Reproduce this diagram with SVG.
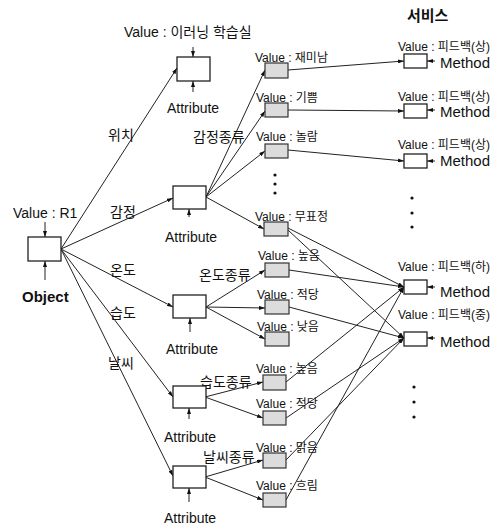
<svg xmlns="http://www.w3.org/2000/svg" width="502" height="529" viewBox="0 0 502 529">
<defs>
<marker id="ah" viewBox="0 0 6 4" refX="6" refY="2" markerWidth="6" markerHeight="4" markerUnits="userSpaceOnUse" orient="auto"><path d="M0,0 L6,2 L0,4 Z" fill="#111"/></marker>
</defs>
<style>
text{font-family:"Liberation Sans","Noto Sans CJK KR",sans-serif;fill:#111}
.t14{font-size:14px}
.t12{font-size:12px}
.t15{font-size:15px}
.b{font-weight:bold}
.box{fill:#fff;stroke:#222;stroke-width:1.3}
.val{fill:#dcdcdc;stroke:#333;stroke-width:1.2}
.ln{stroke:#222;stroke-width:1;fill:none}
.ar{stroke:#222;stroke-width:1;fill:none;marker-end:url(#ah)}
.dot{fill:#111}
</style>
<rect width="502" height="529" fill="#fff"/>
<g id="connectors">
<line class="ar" x1="61" y1="249" x2="177" y2="68"/>
<line class="ar" x1="61" y1="249" x2="173" y2="198"/>
<line class="ar" x1="61" y1="249" x2="173" y2="307"/>
<line class="ar" x1="61" y1="249" x2="173" y2="397"/>
<line class="ar" x1="61" y1="249" x2="173" y2="476"/>
<line class="ar" x1="206" y1="197" x2="265" y2="70"/>
<line class="ar" x1="206" y1="197" x2="265" y2="111"/>
<line class="ar" x1="206" y1="197" x2="265" y2="151"/>
<line class="ar" x1="206" y1="197" x2="264" y2="229"/>
<line class="ar" x1="206" y1="307" x2="265" y2="270"/>
<line class="ar" x1="206" y1="307" x2="265" y2="308"/>
<line class="ar" x1="206" y1="307" x2="265" y2="339"/>
<line class="ar" x1="205" y1="397" x2="263" y2="382"/>
<line class="ar" x1="205" y1="397" x2="263" y2="418"/>
<line class="ar" x1="205" y1="477" x2="263" y2="460"/>
<line class="ar" x1="205" y1="477" x2="263" y2="500"/>
<line class="ar" x1="288" y1="70" x2="404" y2="61"/>
<line class="ar" x1="288" y1="110" x2="404" y2="111"/>
<line class="ar" x1="288" y1="150" x2="404" y2="161"/>
<line class="ar" x1="288" y1="228" x2="404" y2="287"/>
<line class="ar" x1="288" y1="230" x2="404" y2="338"/>
<line class="ar" x1="289" y1="270" x2="404" y2="287"/>
<line class="ar" x1="289" y1="307" x2="404" y2="338"/>
<line class="ar" x1="286" y1="382" x2="404" y2="287"/>
<line class="ar" x1="286" y1="418" x2="404" y2="338"/>
<line class="ar" x1="286" y1="460" x2="404" y2="338"/>
<line class="ar" x1="286" y1="500" x2="404" y2="287"/>
</g>
<g id="edge-labels">
<text class="t14" x="108" y="140">위치</text>
<text class="t14" x="110" y="217">감정</text>
<text class="t14" x="110" y="275">온도</text>
<text class="t14" x="110" y="318">습도</text>
<text class="t14" x="108" y="368">날씨</text>
<text class="t14" x="193" y="142">감정종류</text>
<text class="t14" x="199" y="280">온도종류</text>
<text class="t14" x="200" y="387">습도종류</text>
<text class="t14" x="203" y="462">날씨종류</text>
</g>
<g id="object">
<text class="t14" x="13" y="218">Value : R1</text>
<line class="ar" x1="45" y1="222" x2="45" y2="237"/>
<rect class="box" x="28" y="237" width="33" height="24"/>
<line class="ar" x1="45" y1="280" x2="45" y2="261"/>
<text class="t15 b" x="22" y="302">Object</text>
</g>
<g id="attr-location">
<text class="t14" x="124" y="37">Value : 이러닝 학습실</text>
<line class="ar" x1="193" y1="47" x2="193" y2="57"/>
<rect class="box" x="177" y="57" width="33" height="24"/>
<line class="ar" x1="193" y1="92" x2="193" y2="81"/>
<text class="t14" x="167" y="113">Attribute</text>
</g>
<g id="attr-emotion">
<rect class="box" x="173" y="186" width="33" height="23"/>
<line class="ar" x1="189" y1="217" x2="189" y2="209"/>
<text class="t14" x="165" y="242">Attribute</text>
</g>
<g id="attr-temperature">
<rect class="box" x="173" y="295" width="33" height="23"/>
<line class="ar" x1="190" y1="332" x2="190" y2="318"/>
<text class="t14" x="166" y="354">Attribute</text>
</g>
<g id="attr-humidity">
<rect class="box" x="173" y="386" width="33" height="22"/>
<line class="ar" x1="189" y1="419" x2="189" y2="408"/>
<text class="t14" x="164" y="442">Attribute</text>
</g>
<g id="attr-weather">
<rect class="box" x="173" y="466" width="33" height="22"/>
<line class="ar" x1="189" y1="502" x2="189" y2="488"/>
<text class="t14" x="164" y="523">Attribute</text>
</g>
<g id="val-fun"><text class="t12" x="255" y="62">Value : 재미남</text><rect class="val" x="265" y="63" width="23" height="15"/></g>
<g id="val-joy"><text class="t12" x="256" y="102">Value : 기쁨</text><rect class="val" x="265" y="103" width="23" height="14"/></g>
<g id="val-surprise"><text class="t12" x="256" y="141">Value : 놀람</text><rect class="val" x="265" y="144" width="23" height="14"/></g>
<g id="val-neutral"><text class="t12" x="255" y="221">Value : 무표정</text><rect class="val" x="264" y="222" width="24" height="14"/></g>
<g id="val-temp-high"><text class="t12" x="258" y="260">Value : 높음</text><rect class="val" x="265" y="263" width="24" height="14"/></g>
<g id="val-temp-mid"><text class="t12" x="257" y="299">Value : 적당</text><rect class="val" x="265" y="300" width="24" height="14"/></g>
<g id="val-temp-low"><text class="t12" x="257" y="331">Value : 낮음</text><rect class="val" x="265" y="332" width="24" height="14"/></g>
<g id="val-hum-high"><text class="t12" x="256" y="373">Value : 높음</text><rect class="val" x="263" y="375" width="23" height="15"/></g>
<g id="val-hum-mid"><text class="t12" x="256" y="408">Value : 적당</text><rect class="val" x="263" y="411" width="23" height="14"/></g>
<g id="val-clear"><text class="t12" x="256" y="452">Value : 맑음</text><rect class="val" x="263" y="453" width="23" height="15"/></g>
<g id="val-cloudy"><text class="t12" x="256" y="490">Value : 흐림</text><rect class="val" x="263" y="493" width="23" height="14"/></g>
<g id="service-title"><text class="t15 b" x="407" y="21">서비스</text></g>
<g id="method-1"><text class="t12" x="398" y="51">Value : 피드백(상)</text><rect class="box" x="404" y="54" width="23" height="14"/><line class="ar" x1="435" y1="61" x2="427" y2="61"/><text class="t15" x="440" y="68">Method</text></g>
<g id="method-2"><text class="t12" x="398" y="101">Value : 피드백(상)</text><rect class="box" x="404" y="104" width="23" height="14"/><line class="ar" x1="435" y1="110" x2="427" y2="110"/><text class="t15" x="440" y="117">Method</text></g>
<g id="method-3"><text class="t12" x="398" y="149">Value : 피드백(상)</text><rect class="box" x="404" y="154" width="23" height="14"/><line class="ar" x1="435" y1="161" x2="427" y2="161"/><text class="t15" x="440" y="166">Method</text></g>
<g id="method-4"><text class="t12" x="398" y="271">Value : 피드백(하)</text><rect class="box" x="404" y="280" width="23" height="14"/><line class="ar" x1="435" y1="287" x2="427" y2="287"/><text class="t15" x="440" y="297">Method</text></g>
<g id="method-5"><text class="t12" x="398" y="319">Value : 피드백(중)</text><rect class="box" x="404" y="332" width="23" height="14"/><line class="ar" x1="435" y1="338" x2="427" y2="338"/><text class="t15" x="440" y="347">Method</text></g>
<g id="ellipses">
<circle class="dot" cx="275" cy="175" r="1.6"/><circle class="dot" cx="275" cy="184" r="1.6"/><circle class="dot" cx="275" cy="193" r="1.6"/>
<circle class="dot" cx="412" cy="198" r="1.6"/><circle class="dot" cx="412" cy="213" r="1.6"/><circle class="dot" cx="412" cy="227" r="1.6"/>
<circle class="dot" cx="414" cy="387" r="1.6"/><circle class="dot" cx="414" cy="402" r="1.6"/><circle class="dot" cx="414" cy="417" r="1.6"/>
</g>
</svg>
